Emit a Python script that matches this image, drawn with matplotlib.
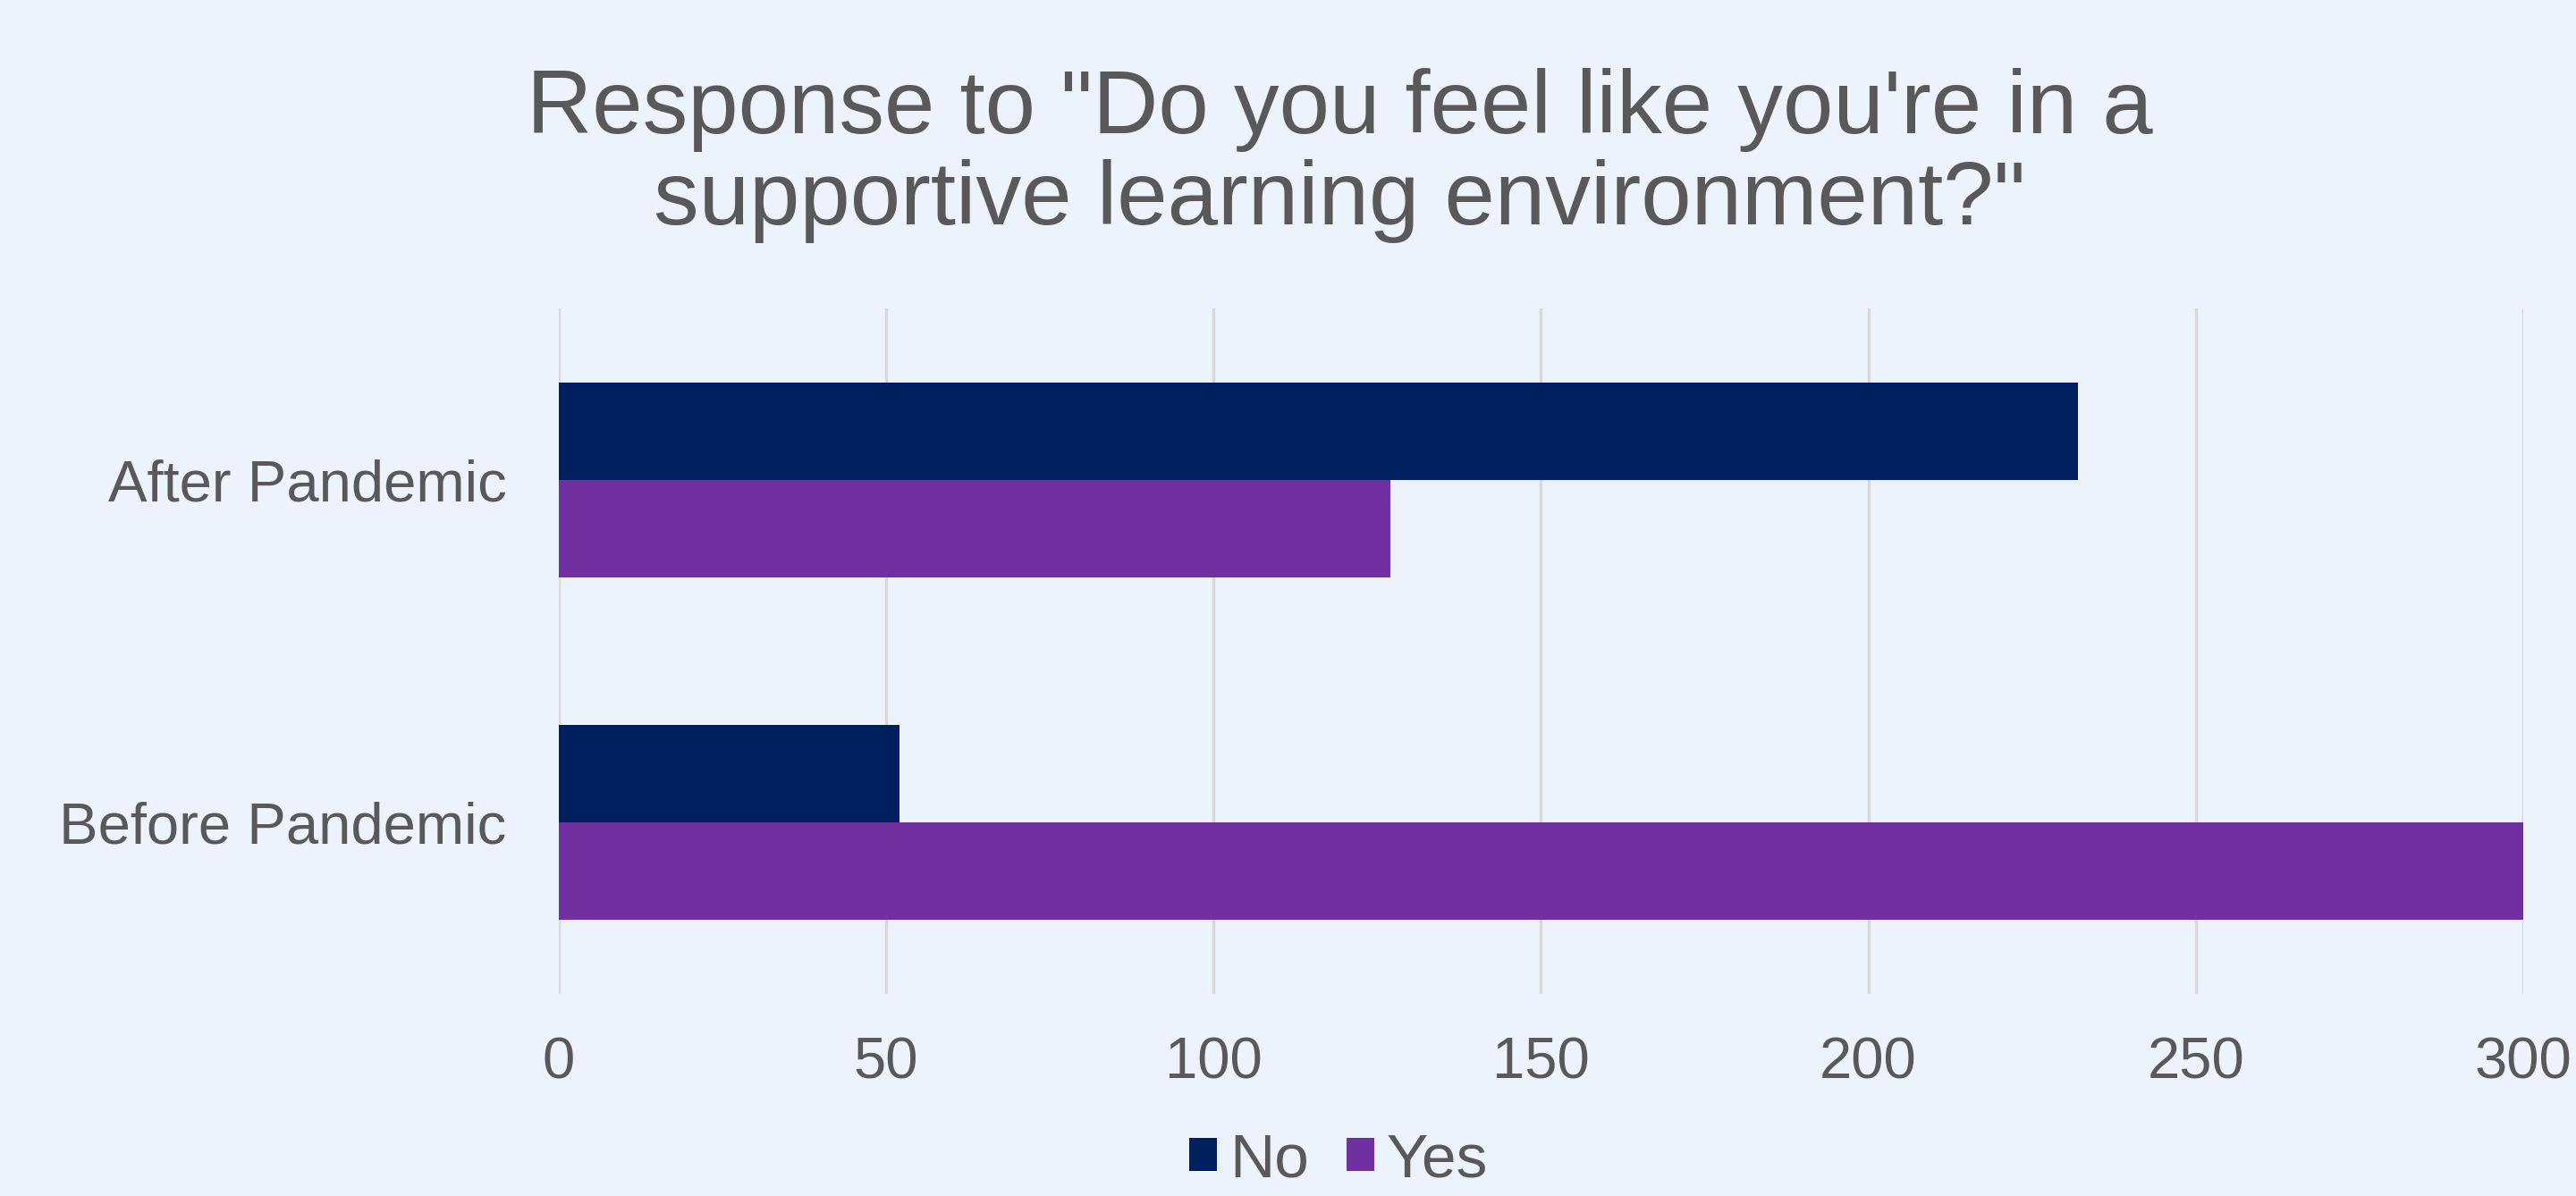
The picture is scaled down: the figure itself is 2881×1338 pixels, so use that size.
import matplotlib
matplotlib.use("Agg")
import matplotlib.pyplot as plt
import numpy as np

categories = ["Before Pandemic", "After Pandemic"]
no_values = [52, 232]
yes_values = [300, 127]
series_names = ["No", "Yes"]
xticks = [0, 50, 100, 150, 200, 250, 300]
title = 'Response to "Do you feel like you\'re in a\nsupportive learning environment?"'

bg = "#EDF3FD"
c_no = "#001F5F"
c_yes = "#7030A0"
txt = "#595959"

plt.rcParams['font.family'] = ['Liberation Sans', 'DejaVu Sans']

fig = plt.figure(figsize=(28.81, 13.38), dpi=100, facecolor=bg)
ax = fig.add_axes([0.2169, 0.1689, 0.7626, 0.5733], facecolor=bg)

y = np.arange(len(categories))
h = 0.284
ax.barh(y + h/2, no_values, height=h, color=c_no, label=series_names[0], zorder=3)
ax.barh(y - h/2, yes_values, height=h, color=c_yes, label=series_names[1], zorder=3)

ax.set_xlim(0, 300)
ax.set_ylim(-0.5, 1.5)
ax.set_xticks(xticks)
ax.set_xticklabels([str(t) for t in xticks])
ax.set_yticks(y)
ax.set_yticklabels(categories)
ax.grid(axis='x', color="#D9D9D9", linewidth=2.5, zorder=0)
for s in ax.spines.values():
    s.set_visible(False)
ax.tick_params(axis='both', length=0, colors=txt, labelsize=47)
ax.tick_params(axis='x', pad=34)
ax.tick_params(axis='y', pad=42)

fig.text(0.52, 0.87, title, ha='center', va='center', fontsize=73, color=txt,
         linespacing=1.1)

leg = ax.legend(loc='center', bbox_to_anchor=(0.397, -0.243), ncol=2, frameon=False,
                fontsize=50, labelcolor=txt, handlelength=0.45, handleheight=0.45,
                handletextpad=0.2, columnspacing=0.6)

fig.savefig("out.png", dpi=100, facecolor=bg)
